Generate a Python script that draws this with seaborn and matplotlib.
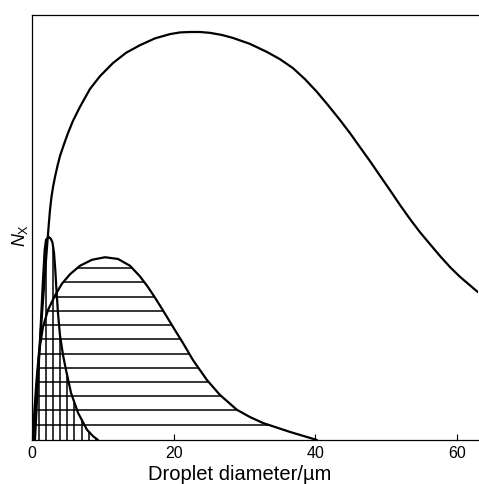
import numpy as np
import matplotlib
matplotlib.use("Agg")
import matplotlib.pyplot as plt
import seaborn as sns

# ---- data ----
# large distribution (um, relative N)
big_x = [0.14, 0.56, 0.99, 1.41, 1.84, 2.12, 2.33, 2.54, 2.75, 2.97, 3.25, 3.60, 3.95,
         4.52, 5.08, 5.79, 6.78, 8.19, 9.60, 11.44, 13.28, 15.25, 17.37, 19.49, 20.90,
         22.32, 23.73, 25.14, 26.84, 28.39, 30.79, 33.19, 35.03, 36.86, 38.56, 40.25,
         41.81, 43.50, 44.92, 46.33, 47.75, 49.15, 50.56, 51.98, 53.39, 54.80, 56.21,
         57.63, 59.04, 60.45, 61.86, 62.99]
big_y = [0.0, 0.099, 0.198, 0.296, 0.393, 0.454, 0.499, 0.541, 0.572, 0.595, 0.619,
         0.645, 0.668, 0.696, 0.722, 0.751, 0.784, 0.826, 0.856, 0.887, 0.911, 0.929,
         0.945, 0.955, 0.959, 0.960, 0.960, 0.958, 0.953, 0.946, 0.932, 0.913, 0.896,
         0.875, 0.849, 0.819, 0.788, 0.753, 0.722, 0.689, 0.656, 0.622, 0.588, 0.553,
         0.520, 0.489, 0.461, 0.433, 0.407, 0.384, 0.364, 0.348]

# medium distribution (horizontally hatched)
med_x = [0.14, 0.35, 0.64, 0.99, 1.55, 2.26, 3.25, 4.24, 5.37, 6.78, 8.47, 10.31, 12.15,
         13.84, 15.25, 16.38, 17.37, 18.50, 19.92, 21.33, 22.74, 24.72, 26.55, 28.95,
         30.79, 32.63, 36.44, 40.25]
med_y = [0.0, 0.071, 0.141, 0.207, 0.266, 0.306, 0.340, 0.368, 0.390, 0.410, 0.424, 0.430,
         0.426, 0.410, 0.385, 0.360, 0.335, 0.305, 0.266, 0.228, 0.188, 0.141, 0.106,
         0.071, 0.054, 0.040, 0.019, 0.0]

# narrow distribution (vertically hatched)
nar_x = [0.42, 1.13, 1.55, 1.79, 1.98, 2.36, 2.68, 2.90, 3.11, 3.29, 3.43, 3.67, 3.95,
         4.38, 4.80, 5.51, 6.50, 7.77, 8.62, 9.32]
nar_y = [0.0, 0.235, 0.376, 0.447, 0.471, 0.478, 0.473, 0.464, 0.44, 0.40, 0.36, 0.299,
         0.247, 0.2, 0.165, 0.111, 0.064, 0.024, 0.009, 0.0]

x_ticks = [0, 20, 40, 60]
x_label = "Droplet diameter/\u00b5m"
y_label = r"$\mathit{N}_{\mathrm{X}}$"

# ---- style ----
sns.set_style("ticks")
plt.rcParams["font.family"] = ["Liberation Sans", "DejaVu Sans"]
plt.rcParams["mathtext.fontset"] = "custom"
plt.rcParams["mathtext.it"] = "Liberation Sans:italic"
plt.rcParams["mathtext.rm"] = "Liberation Sans"

fig = plt.figure(figsize=(4.79, 4.84), dpi=100)
ax = fig.add_axes([32 / 479, 44 / 484, 446 / 479, 425 / 484])

lw_curve = 1.6
lw_hatch = 1.1

# hatching: vertical lines under the narrow curve every 1 um
vx = np.arange(1, 10)
ax.vlines(vx, 0, np.interp(vx, nar_x, nar_y), color="black", lw=lw_hatch)

# hatching: horizontal lines inside the medium curve
mx = np.array(med_x)
my = np.array(med_y)
ip = int(np.argmax(my))
levels = np.arange(0.036, my.max() - 0.015, 0.0335)
left = np.interp(levels, my[:ip + 1], mx[:ip + 1])
right = np.interp(levels, my[ip:][::-1], mx[ip:][::-1])
ax.hlines(levels, left, right, color="black", lw=lw_hatch)

# curves
for cx, cy in [(big_x, big_y), (med_x, med_y), (nar_x, nar_y)]:
    sns.lineplot(x=cx, y=cy, ax=ax, color="black", lw=lw_curve, sort=False,
                 estimator=None)

ax.set_xlim(0, 63.0)
ax.set_ylim(0, 1.0)
ax.set_xticks(x_ticks)
ax.set_xticklabels([str(t) for t in x_ticks], fontsize=11.5, color="black")
ax.set_yticks([])
ax.tick_params(axis="x", direction="in", length=4, width=0.8, pad=4, color="black")

for s in ["left", "top", "bottom"]:
    ax.spines[s].set_color("black")
    ax.spines[s].set_linewidth(0.9)
ax.spines["right"].set_visible(False)

ax.set_xlabel(x_label, fontsize=14.5, color="black")
ax.xaxis.set_label_coords(0.466, -0.08, transform=ax.transAxes)
ax.xaxis.label.set_va("center")
ax.set_ylabel(y_label, fontsize=13, color="black")
ax.yaxis.set_label_coords(-0.004, 0.482)

fig.savefig("out.png", dpi=100)
